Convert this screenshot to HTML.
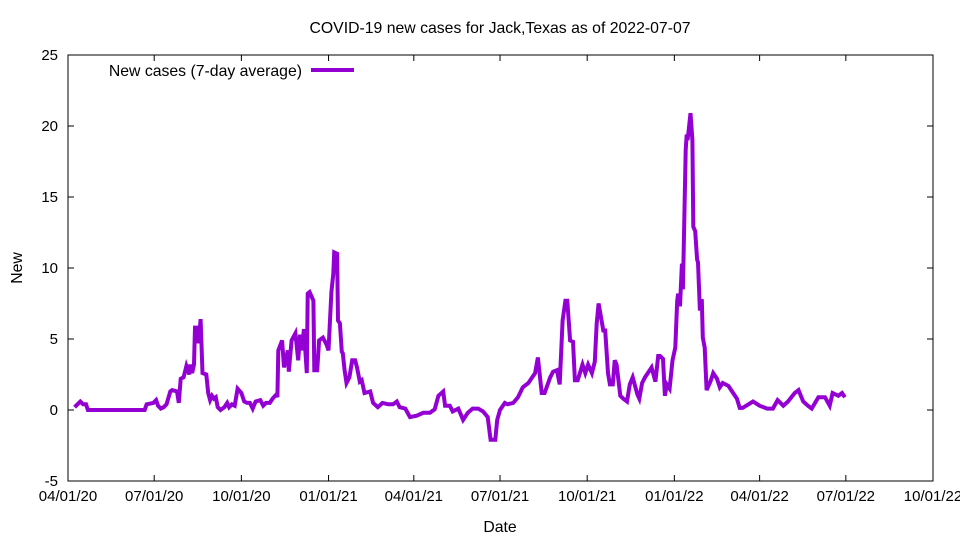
<!DOCTYPE html>
<html><head><meta charset="utf-8"><style>
body{margin:0;background:#fff}
svg text{font-family:"Liberation Sans",sans-serif;font-size:15.8px;fill:#000}
svg text.tick{font-size:15px}
</style></head><body>
<svg id="chart" width="960" height="540">
<text x="500" y="33" text-anchor="middle">COVID-19 new cases for Jack,Texas as of 2022-07-07</text>
<text x="500" y="532" text-anchor="middle">Date</text>
<text transform="translate(22,268) rotate(-90)" text-anchor="middle">New</text>
<g id="axes"></g>
<rect x="68" y="55" width="865" height="426" fill="none" stroke="#000" stroke-width="1"/>
<g>
<text x="302" y="76" text-anchor="end">New cases (7-day average)</text>
<line x1="311" y1="70" x2="354" y2="70" stroke="#9400d3" stroke-width="4"/>
</g>
<path id="series" fill="none" stroke="#9400d3" stroke-width="4" stroke-linejoin="miter"/>
</svg>
<script>
const xTickLabels=["04/01/20","07/01/20","10/01/20","01/01/21","04/01/21","07/01/21","10/01/21","01/01/22","04/01/22","07/01/22","10/01/22"];
const xTickDays=[0,91,183,275,365,456,548,640,730,821,913];
const yTicks=[-5,0,5,10,15,20,25];
const days=[7,13,16,19,21,81,83,90,93,95,98,101,104,108,110,115,117,119,122,125,128,129,131,133,134,136,138,140,142,146,148,150,152,154,156,158,161,165,168,170,173,176,179,183,186,189,192,195,198,203,206,209,213,216,220,221,222,226,228,232,233,236,240,243,245,247,249,252,253,255,259,260,263,265,269,273,275,278,280,281,284,285,287,289,290,292,294,297,300,303,305,308,310,313,319,322,327,332,338,343,347,350,356,361,368,375,382,387,391,396,398,403,406,412,417,422,427,433,438,443,446,451,453,456,461,464,470,475,480,486,490,493,496,500,503,509,512,516,519,522,525,527,530,533,535,538,543,546,549,553,556,558,560,565,567,570,572,575,577,579,583,586,590,593,596,601,603,606,609,612,616,620,623,625,628,630,632,635,638,641,643,644,646,648,649,652,653,654,657,659,660,662,664,665,667,669,670,672,674,678,681,685,688,691,697,702,706,709,712,723,730,738,744,749,755,760,767,771,776,781,785,792,799,804,807,813,817,820,825];
const values=[0.2,0.6,0.4,0.4,0,0,0.4,0.5,0.7,0.3,0.1,0.2,0.4,1.3,1.4,1.3,0.5,2.2,2.3,3.1,2.5,3.2,2.6,3.2,5.8,5.8,4.7,6.4,2.6,2.5,1.2,0.7,1.0,0.8,0.9,0.2,0,0.2,0.5,0.2,0.4,0.3,1.5,1.2,0.6,0.5,0.5,0.1,0.6,0.7,0.3,0.5,0.5,0.8,1.1,0.9,4.2,4.9,3.0,4.2,2.7,4.9,5.4,3.5,5.3,4.2,5.7,2.6,8.2,8.3,7.7,2.8,2.8,4.9,5.1,4.6,4.2,8.3,9.6,11.1,11.0,6.3,6.1,4.1,4.0,2.8,1.9,2.3,3.5,3.5,3.0,2.0,2.1,1.2,1.3,0.5,0.2,0.5,0.4,0.4,0.6,0.2,0.1,-0.5,-0.4,-0.2,-0.2,0.05,1.0,1.3,0.3,0.3,-0.1,0.1,-0.7,-0.2,0.1,0.1,-0.1,-0.5,-2.1,-2.1,-0.7,0.0,0.5,0.4,0.5,0.9,1.6,1.9,2.3,2.6,3.7,1.2,1.2,2.3,2.7,2.8,1.8,6.3,7.7,7.7,4.9,4.8,2.1,2.1,3.2,2.6,3.2,2.6,3.4,6.1,7.5,5.6,5.6,2.6,1.8,1.8,3.5,3.2,1.0,0.8,0.6,1.8,2.3,1.1,0.8,1.9,2.3,2.6,3.0,2.0,3.8,3.8,3.6,1.0,1.8,1.5,3.5,4.4,7.7,8.2,7.3,10.3,8.5,18.3,19.4,19.0,20.9,19.0,12.9,12.6,10.6,10.4,7.0,7.8,5.1,4.4,1.4,2.0,2.6,2.2,1.6,1.9,1.7,1.2,0.8,0.15,0.15,0.6,0.3,0.1,0.1,0.7,0.3,0.6,1.2,1.4,0.6,0.3,0.1,0.9,0.9,0.3,1.2,1.0,1.2,0.9];
const X0=68,X1=933,Y0=481,Y1=55,DMAX=913,VMIN=-5,VMAX=25;
const xs=d=>X0+(X1-X0)*d/DMAX;
const ys=v=>Y0-(Y0-Y1)*(v-VMIN)/(VMAX-VMIN);
const NS="http://www.w3.org/2000/svg";
const axes=document.getElementById('axes');
function mk(tag,attrs){const e=document.createElementNS(NS,tag);for(const k in attrs)e.setAttribute(k,attrs[k]);axes.appendChild(e);return e;}
xTickDays.forEach((d,i)=>{
 const x=xs(d);
 const t1=mk('line',{x1:x,y1:Y0,x2:x,y2:Y0-6,stroke:'#000'});
 
 
 const t2=mk('line',{x1:x,y1:Y1,x2:x,y2:Y1+6,stroke:'#000'});
 
 
 const tx=mk('text',{x:x,y:Y0+20,'text-anchor':'middle','class':'tick'});
 tx.textContent=xTickLabels[i];
 
 
});
yTicks.forEach(v=>{
 const y=ys(v);
 const t1=mk('line',{x1:X0,y1:y,x2:X0+6,y2:y,stroke:'#000'});
 
 
 const t2=mk('line',{x1:X1,y1:y,x2:X1-6,y2:y,stroke:'#000'});
 
 
 const tx=mk('text',{x:X0-10,y:y+5,'text-anchor':'end','class':'tick'});
 tx.textContent=v;
 
 
});
document.getElementById('series').setAttribute('d',days.map((d,i)=>(i?'L':'M')+xs(d).toFixed(1)+','+ys(values[i]).toFixed(1)).join(''));
</script>
</body></html>
